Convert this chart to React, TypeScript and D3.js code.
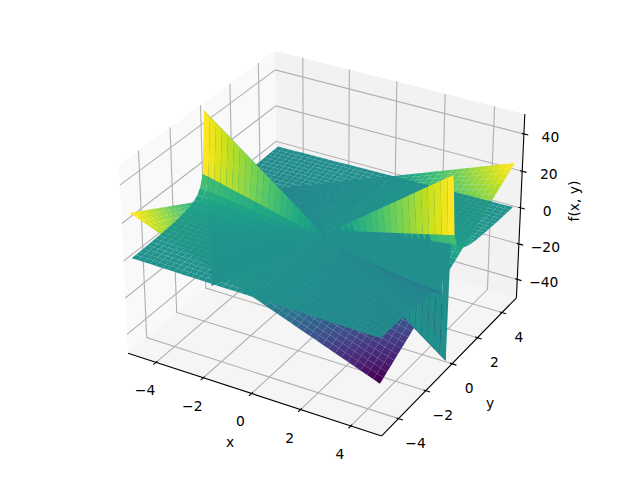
import React from "react";
import * as d3 from "d3";

const xTicks = [-4, -2, 0, 2, 4];
const yTicks = [-4, -2, 0, 2, 4];
const zTicks = [-40, -20, 0, 20, 40];
const xLim = [-5.208, 5.208];
const yLim = [-5.208, 5.208];
const zLim = [-50.5, 50.5];

const gridX = [-5,-4.5,-4,-3.5,-3,-2.5,-2,-1.5,-1,-0.5,0,0.5,1,1.5,2,2.5,3,3.5,4,4.5,5];
const saddleY = [-5,-4.5,-4,-3.5,-3,-2.5,-2,-1.5,-1,-0.5,0,0.5,1,1.5,2,2.5,3,3.5,4,4.5,5];
const saddleZ = [
[25,22.5,20,17.5,15,12.5,10,7.5,5,2.5,0,-2.5,-5,-7.5,-10,-12.5,-15,-17.5,-20,-22.5,-25],
[22.5,20.25,18,15.75,13.5,11.25,9,6.75,4.5,2.25,0,-2.25,-4.5,-6.75,-9,-11.25,-13.5,-15.75,-18,-20.25,-22.5],
[20,18,16,14,12,10,8,6,4,2,0,-2,-4,-6,-8,-10,-12,-14,-16,-18,-20],
[17.5,15.75,14,12.25,10.5,8.75,7,5.25,3.5,1.75,0,-1.75,-3.5,-5.25,-7,-8.75,-10.5,-12.25,-14,-15.75,-17.5],
[15,13.5,12,10.5,9,7.5,6,4.5,3,1.5,0,-1.5,-3,-4.5,-6,-7.5,-9,-10.5,-12,-13.5,-15],
[12.5,11.25,10,8.75,7.5,6.25,5,3.75,2.5,1.25,0,-1.25,-2.5,-3.75,-5,-6.25,-7.5,-8.75,-10,-11.25,-12.5],
[10,9,8,7,6,5,4,3,2,1,0,-1,-2,-3,-4,-5,-6,-7,-8,-9,-10],
[7.5,6.75,6,5.25,4.5,3.75,3,2.25,1.5,0.75,0,-0.75,-1.5,-2.25,-3,-3.75,-4.5,-5.25,-6,-6.75,-7.5],
[5,4.5,4,3.5,3,2.5,2,1.5,1,0.5,0,-0.5,-1,-1.5,-2,-2.5,-3,-3.5,-4,-4.5,-5],
[2.5,2.25,2,1.75,1.5,1.25,1,0.75,0.5,0.25,0,-0.25,-0.5,-0.75,-1,-1.25,-1.5,-1.75,-2,-2.25,-2.5],
[0,0,0,0,0,0,0,0,0,0,0,0,0,0,0,0,0,0,0,0,0],
[-2.5,-2.25,-2,-1.75,-1.5,-1.25,-1,-0.75,-0.5,-0.25,0,0.25,0.5,0.75,1,1.25,1.5,1.75,2,2.25,2.5],
[-5,-4.5,-4,-3.5,-3,-2.5,-2,-1.5,-1,-0.5,0,0.5,1,1.5,2,2.5,3,3.5,4,4.5,5],
[-7.5,-6.75,-6,-5.25,-4.5,-3.75,-3,-2.25,-1.5,-0.75,0,0.75,1.5,2.25,3,3.75,4.5,5.25,6,6.75,7.5],
[-10,-9,-8,-7,-6,-5,-4,-3,-2,-1,0,1,2,3,4,5,6,7,8,9,10],
[-12.5,-11.25,-10,-8.75,-7.5,-6.25,-5,-3.75,-2.5,-1.25,0,1.25,2.5,3.75,5,6.25,7.5,8.75,10,11.25,12.5],
[-15,-13.5,-12,-10.5,-9,-7.5,-6,-4.5,-3,-1.5,0,1.5,3,4.5,6,7.5,9,10.5,12,13.5,15],
[-17.5,-15.75,-14,-12.25,-10.5,-8.75,-7,-5.25,-3.5,-1.75,0,1.75,3.5,5.25,7,8.75,10.5,12.25,14,15.75,17.5],
[-20,-18,-16,-14,-12,-10,-8,-6,-4,-2,0,2,4,6,8,10,12,14,16,18,20],
[-22.5,-20.25,-18,-15.75,-13.5,-11.25,-9,-6.75,-4.5,-2.25,0,2.25,4.5,6.75,9,11.25,13.5,15.75,18,20.25,22.5],
[-25,-22.5,-20,-17.5,-15,-12.5,-10,-7.5,-5,-2.5,0,2.5,5,7.5,10,12.5,15,17.5,20,22.5,25],
];

const plateY = [-5,-4.5,-4,-3.5,-3,-2.5,-2,-1.6,-1.2,-0.9,-0.7,-0.5,-0.3,-0.1,0.1,0.3,0.5,0.7,0.9,1.2,1.6,2,2.5,3,3.5,4,4.5,5];
const plateZ = [
[1,0.9,0.8,0.7,0.6,0.5,0.4,0.3,0.2,0.1,0,-0.1,-0.2,-0.3,-0.4,-0.5,-0.6,-0.7,-0.8,-0.9,-1],
[1.1,1,0.9,0.8,0.7,0.6,0.4,0.3,0.2,0.1,0,-0.1,-0.2,-0.3,-0.4,-0.6,-0.7,-0.8,-0.9,-1,-1.1],
[1.25,1.1,1,0.9,0.8,0.6,0.5,0.4,0.3,0.1,0,-0.1,-0.3,-0.4,-0.5,-0.6,-0.8,-0.9,-1,-1.1,-1.25],
[1.4,1.3,1.1,1,0.8,0.7,0.6,0.4,0.3,0.1,0,-0.1,-0.3,-0.4,-0.6,-0.7,-0.8,-1,-1.1,-1.3,-1.4],
[1.7,1.5,1.4,1.2,1,0.9,0.7,0.5,0.3,0.2,0,-0.2,-0.3,-0.5,-0.7,-0.9,-1,-1.2,-1.4,-1.5,-1.7],
[2,1.8,1.6,1.4,1.2,1,0.8,0.6,0.4,0.2,0,-0.2,-0.4,-0.6,-0.8,-1,-1.2,-1.4,-1.6,-1.8,-2],
[2.5,2.25,2,1.75,1.5,1.25,1,0.75,0.5,0.25,0,-0.25,-0.5,-0.75,-1,-1.25,-1.5,-1.75,-2,-2.25,-2.5],
[3.1,2.8,2.5,2.2,1.9,1.6,1.2,0.9,0.6,0.3,0,-0.3,-0.6,-0.9,-1.2,-1.6,-1.9,-2.2,-2.5,-2.8,-3.1],
[4.2,3.8,3.4,2.9,2.5,2.1,1.7,1.3,0.8,0.4,0,-0.4,-0.8,-1.3,-1.7,-2.1,-2.5,-2.9,-3.4,-3.8,-4.2],
[5.6,5,4.5,3.9,3.4,2.8,2.2,1.7,1.1,0.6,0,-0.6,-1.1,-1.7,-2.2,-2.8,-3.4,-3.9,-4.5,-5,-5.6],
[7.1,6.4,5.7,5,4.3,3.6,2.8,2.1,1.4,0.7,0,-0.7,-1.4,-2.1,-2.8,-3.6,-4.3,-5,-5.7,-6.4,-7.1],
[10,9,8,7,6,5,4,3,2,1,0,-1,-2,-3,-4,-5,-6,-7,-8,-9,-10],
[16.3,14.7,13,11.4,9.8,8.2,6.5,4.9,3.3,1.6,0,-1.6,-3.3,-4.9,-6.5,-8.2,-9.8,-11.4,-13,-14.7,-16.3],
[49,44.1,39.2,34.3,29.4,24.5,19.6,14.7,9.8,4.9,0,-4.9,-9.8,-14.7,-19.6,-24.5,-29.4,-34.3,-39.2,-44.1,-49],
[-49,-44.1,-39.2,-34.3,-29.4,-24.5,-19.6,-14.7,-9.8,-4.9,0,4.9,9.8,14.7,19.6,24.5,29.4,34.3,39.2,44.1,49],
[-16.3,-14.7,-13,-11.4,-9.8,-8.2,-6.5,-4.9,-3.3,-1.6,0,1.6,3.3,4.9,6.5,8.2,9.8,11.4,13,14.7,16.3],
[-10,-9,-8,-7,-6,-5,-4,-3,-2,-1,0,1,2,3,4,5,6,7,8,9,10],
[-7.1,-6.4,-5.7,-5,-4.3,-3.6,-2.8,-2.1,-1.4,-0.7,0,0.7,1.4,2.1,2.8,3.6,4.3,5,5.7,6.4,7.1],
[-5.6,-5,-4.5,-3.9,-3.4,-2.8,-2.2,-1.7,-1.1,-0.6,0,0.6,1.1,1.7,2.2,2.8,3.4,3.9,4.5,5,5.6],
[-4.2,-3.8,-3.4,-2.9,-2.5,-2.1,-1.7,-1.3,-0.8,-0.4,0,0.4,0.8,1.3,1.7,2.1,2.5,2.9,3.4,3.8,4.2],
[-3.1,-2.8,-2.5,-2.2,-1.9,-1.6,-1.2,-0.9,-0.6,-0.3,0,0.3,0.6,0.9,1.2,1.6,1.9,2.2,2.5,2.8,3.1],
[-2.5,-2.25,-2,-1.75,-1.5,-1.25,-1,-0.75,-0.5,-0.25,0,0.25,0.5,0.75,1,1.25,1.5,1.75,2,2.25,2.5],
[-2,-1.8,-1.6,-1.4,-1.2,-1,-0.8,-0.6,-0.4,-0.2,0,0.2,0.4,0.6,0.8,1,1.2,1.4,1.6,1.8,2],
[-1.7,-1.5,-1.4,-1.2,-1,-0.9,-0.7,-0.5,-0.3,-0.2,0,0.2,0.3,0.5,0.7,0.9,1,1.2,1.4,1.5,1.7],
[-1.4,-1.3,-1.1,-1,-0.8,-0.7,-0.6,-0.4,-0.3,-0.1,0,0.1,0.3,0.4,0.6,0.7,0.8,1,1.1,1.3,1.4],
[-1.25,-1.1,-1,-0.9,-0.8,-0.6,-0.5,-0.4,-0.3,-0.1,0,0.1,0.3,0.4,0.5,0.6,0.8,0.9,1,1.1,1.25],
[-1.1,-1,-0.9,-0.8,-0.7,-0.6,-0.4,-0.3,-0.2,-0.1,0,0.1,0.2,0.3,0.4,0.6,0.7,0.8,0.9,1,1.1],
[-1,-0.9,-0.8,-0.7,-0.6,-0.5,-0.4,-0.3,-0.2,-0.1,0,0.1,0.2,0.3,0.4,0.5,0.6,0.7,0.8,0.9,1],
];

const boxHalf = [0.5953, 0.5953, 0.44];
const sxS = d3.scaleLinear().domain(xLim).range([-boxHalf[0], boxHalf[0]]);
const syS = d3.scaleLinear().domain(yLim).range([-boxHalf[1], boxHalf[1]]);
const szS = d3.scaleLinear().domain(zLim).range([-boxHalf[2], boxHalf[2]]);
const screenX = d3.scaleLinear().domain([0, 1]).range([325.8, 325.8 + 2440]);
const screenY = d3.scaleLinear().domain([0, 1]).range([234, 234 - 2440]);
const dist = 10;
const U = [0.866, 0.5, 0];
const V = [-0.25, 0.433, 0.866];
const W = [0.433, -0.75, 0.5];
const dot = (a: number[], b: number[]) => a[0] * b[0] + a[1] * b[1] + a[2] * b[2];

function project(x: number, y: number, z: number) {
  const p = [sxS(x), syS(y), szS(z)];
  const d = dist - dot(p, W);
  return { px: screenX(dot(p, U) / d), py: screenY(dot(p, V) / d), depth: d };
}
const pts = (l: number[][]) =>
  l.map((q) => { const r = project(q[0], q[1], q[2]); return `${r.px.toFixed(2)},${r.py.toFixed(2)}`; }).join(" ");
const path = (l: number[][]) => "M" + pts(l).split(" ").join("L");

// Each table cell is tessellated into smaller patches purely for shading;
// the thin rows next to y = 0 stay whole so their steep strips keep their shape.
function cells(ys: number[], zs: number[][]) {
  const out: { points: string; mean: number; depth: number }[] = [];
  for (let j = 0; j < ys.length - 1; j++) {
    const ny = ys[j + 1] - ys[j] >= 0.3 ? 2 : 1;
    for (let i = 0; i < gridX.length - 1; i++) {
      const at = (u: number, v: number) => [
        gridX[i] + (gridX[i + 1] - gridX[i]) * u,
        ys[j] + (ys[j + 1] - ys[j]) * v,
        (1 - v) * ((1 - u) * zs[j][i] + u * zs[j][i + 1]) + v * ((1 - u) * zs[j + 1][i] + u * zs[j + 1][i + 1]),
      ];
      for (let a = 0; a < 2; a++) {
        for (let b = 0; b < ny; b++) {
          const q = [at(a / 2, b / ny), at((a + 1) / 2, b / ny), at((a + 1) / 2, (b + 1) / ny), at(a / 2, (b + 1) / ny)];
          out.push({
            points: pts(q),
            mean: d3.mean(q, (c) => c[2]) as number,
            depth: d3.mean(q, (c) => project(c[0], c[1], c[2]).depth) as number,
          });
        }
      }
    }
  }
  const ext = d3.extent(out, (c) => c.mean) as [number, number];
  const color = d3.scaleSequential(d3.interpolateViridis).domain(ext);
  return out
    .sort((a, b) => b.depth - a.depth)
    .map((c) => ({ points: c.points, fill: color(c.mean) as string }));
}

const FONT = "'DejaVu Sans', sans-serif";
const fmt = (v: number) => (v < 0 ? "\u2212" + Math.abs(v) : String(v));

export default function App() {
  const [x0, x1] = xLim;
  const [y0, y1] = yLim;
  const [z0, z1] = zLim;
  const dx = (x1 - x0) / 12;
  const dy = (y1 - y0) / 12;
  const saddle = cells(saddleY, saddleZ);
  const plate = cells(plateY, plateZ);
  const lab = (p: { px: number; py: number }, ox: number, oy: number, s: string) => (
    <text key={s + p.px} x={p.px + ox} y={p.py + oy} textAnchor="middle" dominantBaseline="central" fontSize={13.89} fontFamily={FONT}>{s}</text>
  );
  return (
    <svg width={640} height={480} style={{ position: "absolute", left: 0, top: 0 }}>
      <rect width={640} height={480} fill="#fff" />
      <polygon points={pts([[x0,y0,z0],[x0,y1,z0],[x0,y1,z1],[x0,y0,z1]])} fill="#f9f9f9" />
      <polygon points={pts([[x0,y1,z0],[x1,y1,z0],[x1,y1,z1],[x0,y1,z1]])} fill="#f2f2f2" />
      <polygon points={pts([[x0,y0,z0],[x1,y0,z0],[x1,y1,z0],[x0,y1,z0]])} fill="#f5f5f5" />
      {xTicks.map((t) => <path key={"gx" + t} d={path([[t,y0,z0],[t,y1,z0],[t,y1,z1]])} fill="none" stroke="#b0b0b0" strokeWidth={1.1} />)}
      {yTicks.map((t) => <path key={"gy" + t} d={path([[x1,t,z0],[x0,t,z0],[x0,t,z1]])} fill="none" stroke="#b0b0b0" strokeWidth={1.1} />)}
      {zTicks.map((t) => <path key={"gz" + t} d={path([[x1,y1,t],[x0,y1,t],[x0,y0,t]])} fill="none" stroke="#b0b0b0" strokeWidth={1.1} />)}
      <path d={path([[x0,y0,z0],[x1,y0,z0]])} stroke="#000" strokeWidth={1.1} fill="none" />
      <path d={path([[x1,y0,z0],[x1,y1,z0]])} stroke="#000" strokeWidth={1.1} fill="none" />
      <path d={path([[x1,y1,z0],[x1,y1,z1]])} stroke="#000" strokeWidth={1.1} fill="none" />
      {xTicks.map((t) => <path key={"tx" + t} d={path([[t,y0+0.1*dy,z0],[t,y0-0.2*dy,z0]])} stroke="#000" strokeWidth={1.1} fill="none" />)}
      {yTicks.map((t) => <path key={"ty" + t} d={path([[x1-0.1*dx,t,z0],[x1+0.2*dx,t,z0]])} stroke="#000" strokeWidth={1.1} fill="none" />)}
      {zTicks.map((t) => <path key={"tz" + t} d={path([[x1-0.1*dx,y1,t],[x1+0.2*dx,y1,t]])} stroke="#000" strokeWidth={1.1} fill="none" />)}
      <g>{saddle.map((c, i) => <polygon key={i} points={c.points} fill={c.fill} />)}</g>
      <g>{plate.map((c, i) => <polygon key={i} points={c.points} fill={c.fill} />)}</g>
      {xTicks.map((t) => lab(project(t, y0, z0), -11, 28, fmt(t)))}
      {yTicks.map((t) => lab(project(x1, t, z0), 17, 24, fmt(t)))}
      {zTicks.map((t) => lab(project(x1, y1, t), 26.5, 2.7, fmt(t)))}
      <text x={230} y={442} textAnchor="middle" dominantBaseline="central" fontSize={13.89} fontFamily={FONT}>x</text>
      <text x={490} y={403} textAnchor="middle" dominantBaseline="central" fontSize={13.89} fontFamily={FONT}>y</text>
      <text transform="translate(574.3,201) rotate(-90)" textAnchor="middle" dominantBaseline="central" fontSize={13.89} fontFamily={FONT}>f(x, y)</text>
    </svg>
  );
}
